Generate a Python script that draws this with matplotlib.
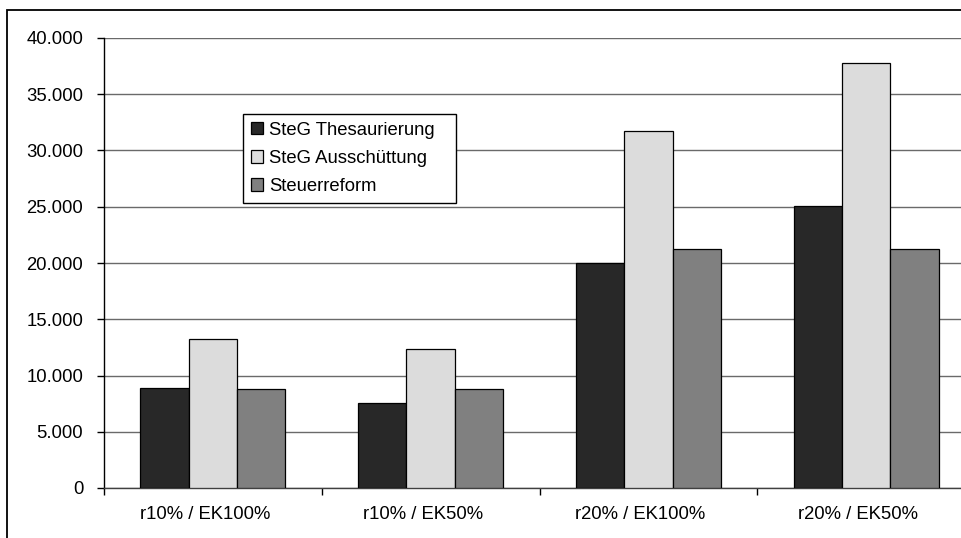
import matplotlib.pyplot as plt
import matplotlib.patches as mpatches
import matplotlib.transforms as mtransforms
from matplotlib.ticker import FuncFormatter
import numpy as np

plt.rcParams['font.family'] = ['Liberation Sans', 'DejaVu Sans']

# data
categories = ['r10% / EK100%', 'r10% / EK50%', 'r20% / EK100%', 'r20% / EK50%']
series_names = ['SteG Thesaurierung', 'SteG Ausschüttung', 'Steuerreform']
thesaurierung = [8920, 7580, 19970, 25070]
ausschuettung = [13240, 12380, 31700, 37750]
steuerreform = [8770, 8770, 21270, 21270]
yticks = [0, 5000, 10000, 15000, 20000, 25000, 30000, 35000, 40000]

colors = ['#282828', '#dcdcdc', '#808080']
series = [thesaurierung, ausschuettung, steuerreform]

W, H = 962, 538
fig = plt.figure(figsize=(W / 100, H / 100), dpi=100)

# axes placed in pixel terms (right edge runs past the picture, as in the original crop)
left, right, top, base = 104, 975, 38, 488
ax = fig.add_axes([left / W, 1 - base / H, (right - left) / W, (base - top) / H])

x = np.arange(len(categories))
bw = 0.222
for i, (vals, col, name) in enumerate(zip(series, colors, series_names)):
    ax.bar(x + (i - 1) * bw, vals, width=bw, color=col, edgecolor='black',
           linewidth=0.9, label=name, zorder=3)

ax.set_xlim(-0.5, len(categories) - 0.5)
ax.set_ylim(0, 40000)
ax.set_yticks(yticks)
ax.yaxis.set_major_formatter(FuncFormatter(lambda v, p: f'{int(v):,}'.replace(',', '.')))
ax.yaxis.grid(True, color='#6a6a6a', linewidth=1.0, zorder=0)
ax.set_axisbelow(True)

# category boundary ticks, labels in between
ax.set_xticks(np.arange(len(categories) + 1) - 0.5)
ax.set_xticklabels([])
ax.set_xticks(x, minor=True)
ax.set_xticklabels(categories, minor=True)
ax.tick_params(axis='x', which='minor', length=0, pad=13, labelsize=13.3)
ax.tick_params(axis='x', which='major', direction='out', length=5, width=1, color='black')
ax.tick_params(axis='y', direction='out', length=5, width=1, pad=10, labelsize=13.3)

# labels sit a little left of the category centre in the original
shift = mtransforms.ScaledTranslation(-8 / 100, 0, fig.dpi_scale_trans)
for lbl in ax.get_xticklabels(minor=True):
    lbl.set_transform(lbl.get_transform() + shift)

for s in ['top', 'right']:
    ax.spines[s].set_visible(False)
ax.spines['left'].set_color('black')
ax.spines['bottom'].set_color('#404040')
ax.spines['left'].set_linewidth(1.0)
ax.spines['bottom'].set_linewidth(1.0)

leg = fig.legend(loc='upper left',
                 bbox_to_anchor=(243 / W, 1 - 199 / H, (456 - 243) / W, 85 / H),
                 mode='expand', borderaxespad=0, fontsize=13.3, fancybox=False,
                 shadow=False, handlelength=0.65, handleheight=0.65,
                 handletextpad=0.33, borderpad=0.42, labelspacing=0.6, framealpha=1)
leg.get_frame().set_edgecolor('black')
leg.get_frame().set_linewidth(1.0)

# outer chart border (only left and top edges fall inside the picture)
fig.patches.append(mpatches.Rectangle((7 / W, -0.5), 2, 0.5 + 1 - 10 / H, fill=False,
                                      edgecolor='black', linewidth=1.3,
                                      transform=fig.transFigure))

fig.savefig('out.png', dpi=100)
